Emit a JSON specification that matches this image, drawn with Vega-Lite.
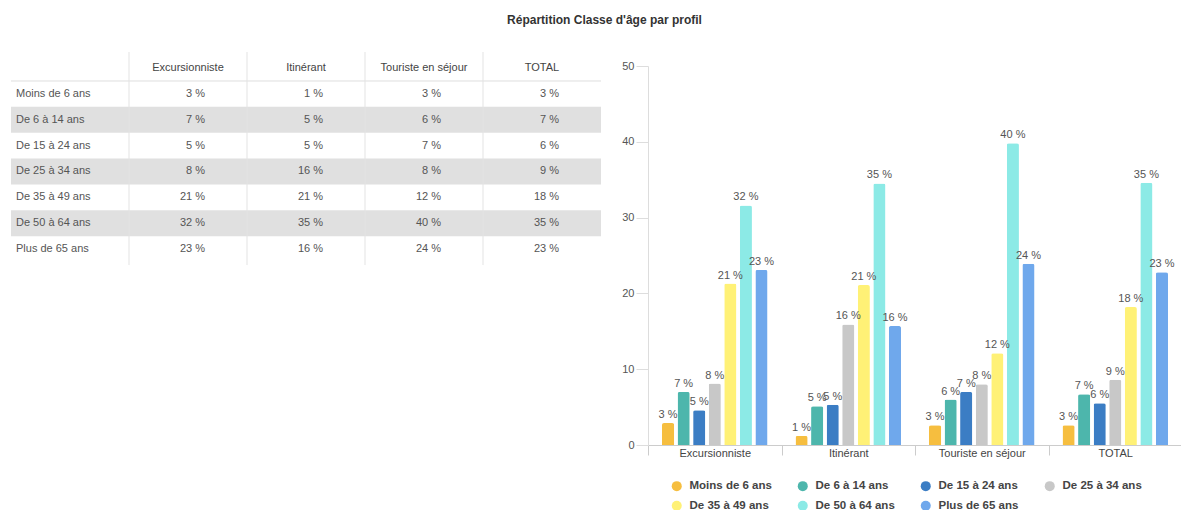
{
  "$schema": "https://vega.github.io/schema/vega-lite/v6.json",
  "padding": {"left": 10, "top": 14, "right": 0, "bottom": 0},
  "background": "white",
  "title": {"text": "Répartition Classe d'âge par profil", "fontSize": 12, "fontWeight": "bold", "color": "#333333", "anchor": "middle", "offset": 24, "dx": 8},
  "config": {"font": "Liberation Sans", "view": {"stroke": null}},
  "bounds": "flush",
  "spacing": 47,
  "datasets": {
    "donnees": [
      {"profil": "Excursionniste", "classe": "Moins de 6 ans", "rang": 1, "pct": 2.9, "label": "3 %"},
      {"profil": "Excursionniste", "classe": "De 6 à 14 ans", "rang": 2, "pct": 7.0, "label": "7 %"},
      {"profil": "Excursionniste", "classe": "De 15 à 24 ans", "rang": 3, "pct": 4.6, "label": "5 %"},
      {"profil": "Excursionniste", "classe": "De 25 à 34 ans", "rang": 4, "pct": 8.1, "label": "8 %"},
      {"profil": "Excursionniste", "classe": "De 35 à 49 ans", "rang": 5, "pct": 21.3, "label": "21 %"},
      {"profil": "Excursionniste", "classe": "De 50 à 64 ans", "rang": 6, "pct": 31.6, "label": "32 %"},
      {"profil": "Excursionniste", "classe": "Plus de 65 ans", "rang": 7, "pct": 23.1, "label": "23 %"},
      {"profil": "Itinérant", "classe": "Moins de 6 ans", "rang": 1, "pct": 1.2, "label": "1 %"},
      {"profil": "Itinérant", "classe": "De 6 à 14 ans", "rang": 2, "pct": 5.1, "label": "5 %"},
      {"profil": "Itinérant", "classe": "De 15 à 24 ans", "rang": 3, "pct": 5.3, "label": "5 %"},
      {"profil": "Itinérant", "classe": "De 25 à 34 ans", "rang": 4, "pct": 15.9, "label": "16 %"},
      {"profil": "Itinérant", "classe": "De 35 à 49 ans", "rang": 5, "pct": 21.1, "label": "21 %"},
      {"profil": "Itinérant", "classe": "De 50 à 64 ans", "rang": 6, "pct": 34.5, "label": "35 %"},
      {"profil": "Itinérant", "classe": "Plus de 65 ans", "rang": 7, "pct": 15.7, "label": "16 %"},
      {"profil": "Touriste en séjour", "classe": "Moins de 6 ans", "rang": 1, "pct": 2.6, "label": "3 %"},
      {"profil": "Touriste en séjour", "classe": "De 6 à 14 ans", "rang": 2, "pct": 6.0, "label": "6 %"},
      {"profil": "Touriste en séjour", "classe": "De 15 à 24 ans", "rang": 3, "pct": 7.0, "label": "7 %"},
      {"profil": "Touriste en séjour", "classe": "De 25 à 34 ans", "rang": 4, "pct": 8.0, "label": "8 %"},
      {"profil": "Touriste en séjour", "classe": "De 35 à 49 ans", "rang": 5, "pct": 12.1, "label": "12 %"},
      {"profil": "Touriste en séjour", "classe": "De 50 à 64 ans", "rang": 6, "pct": 39.8, "label": "40 %"},
      {"profil": "Touriste en séjour", "classe": "Plus de 65 ans", "rang": 7, "pct": 23.9, "label": "24 %"},
      {"profil": "TOTAL", "classe": "Moins de 6 ans", "rang": 1, "pct": 2.6, "label": "3 %"},
      {"profil": "TOTAL", "classe": "De 6 à 14 ans", "rang": 2, "pct": 6.7, "label": "7 %"},
      {"profil": "TOTAL", "classe": "De 15 à 24 ans", "rang": 3, "pct": 5.5, "label": "6 %"},
      {"profil": "TOTAL", "classe": "De 25 à 34 ans", "rang": 4, "pct": 8.6, "label": "9 %"},
      {"profil": "TOTAL", "classe": "De 35 à 49 ans", "rang": 5, "pct": 18.2, "label": "18 %"},
      {"profil": "TOTAL", "classe": "De 50 à 64 ans", "rang": 6, "pct": 34.6, "label": "35 %"},
      {"profil": "TOTAL", "classe": "Plus de 65 ans", "rang": 7, "pct": 22.8, "label": "23 %"}
    ]
  },
  "hconcat": [
    {
      "width": 590,
      "height": 200,
      "data": {"name": "donnees"},
      "layer": [
        {
          "transform": [{"filter": "datum.profil === 'TOTAL' && datum.rang % 2 === 0"}],
          "mark": {"type": "tick", "orient": "horizontal", "thickness": 26, "size": 590, "color": "#e0e0e0", "opacity": 1},
          "encoding": {
            "x": {"datum": "Itinérant", "type": "nominal", "scale": {"domain": ["Classe", "Excursionniste", "Itinérant", "Touriste en séjour", "TOTAL"], "paddingInner": 0, "paddingOuter": 0}, "axis": null},
            "y": {"field": "rang", "type": "quantitative", "scale": {"domain": [-0.0773, 7.656], "reverse": true, "nice": false, "zero": false}, "axis": null}
          }
        },
        {
          "mark": {"type": "rule", "color": "#eeeeee", "strokeWidth": 1},
          "encoding": {"y": {"datum": 0.5, "type": "quantitative"}}
        },
        {
          "data": {"values": [{"profil": "Excursionniste"}, {"profil": "Itinérant"}, {"profil": "Touriste en séjour"}, {"profil": "TOTAL"}]},
          "mark": {"type": "rule", "color": "#e3e3e3", "strokeWidth": 1},
          "encoding": {
            "x": {"field": "profil", "type": "nominal", "bandPosition": 0},
            "y": {"datum": -0.62, "type": "quantitative"},
            "y2": {"datum": 7.62}
          }
        },
        {
          "data": {"values": [{"profil": "Excursionniste"}, {"profil": "Itinérant"}, {"profil": "Touriste en séjour"}, {"profil": "TOTAL"}]},
          "mark": {"type": "text", "fontSize": 11, "color": "#444444"},
          "encoding": {
            "x": {"field": "profil", "type": "nominal"},
            "y": {"datum": 0, "type": "quantitative"},
            "text": {"field": "profil"}
          }
        },
        {
          "transform": [{"filter": "datum.profil === 'TOTAL'"}],
          "mark": {"type": "text", "fontSize": 11, "color": "#555555", "align": "left", "dx": -54},
          "encoding": {
            "x": {"datum": "Classe", "type": "nominal"},
            "y": {"field": "rang", "type": "quantitative"},
            "text": {"field": "classe"}
          }
        },
        {
          "mark": {"type": "text", "fontSize": 11, "color": "#555555", "align": "right", "dx": 17},
          "encoding": {
            "x": {"field": "profil", "type": "nominal"},
            "y": {"field": "rang", "type": "quantitative"},
            "text": {"field": "label"}
          }
        }
      ]
    },
    {
      "width": 534,
      "height": 379,
      "data": {"name": "donnees"},
      "encoding": {
        "x": {
          "field": "profil", "type": "nominal",
          "sort": ["Excursionniste", "Itinérant", "Touriste en séjour", "TOTAL"],
          "scale": {"paddingInner": 0, "paddingOuter": 0},
          "axis": {"title": null, "labelAngle": 0, "labelFontSize": 11, "labelColor": "#444444", "tickBand": "extent", "tickSize": 10, "tickColor": "#cccccc", "domainColor": "#cccccc", "labelPadding": -8}
        },
        "xOffset": {
          "field": "classe", "type": "nominal",
          "sort": ["Moins de 6 ans", "De 6 à 14 ans", "De 15 à 24 ans", "De 25 à 34 ans", "De 35 à 49 ans", "De 50 à 64 ans", "Plus de 65 ans"],
          "scale": {"paddingInner": 0.22, "paddingOuter": 0.9}
        },
        "y": {
          "field": "pct", "type": "quantitative",
          "scale": {"domain": [0, 50], "nice": false},
          "axis": {"title": null, "values": [0, 10, 20, 30, 40, 50], "grid": false, "labelFontSize": 11, "labelColor": "#555555", "tickSize": 12, "tickColor": "#dddddd", "domainColor": "#dddddd", "labelPadding": 2}
        }
      },
      "layer": [
        {
          "mark": {"type": "bar", "cornerRadiusTopLeft": 2, "cornerRadiusTopRight": 2},
          "encoding": {
            "color": {
              "field": "classe", "type": "nominal",
              "scale": {
                "domain": ["Moins de 6 ans", "De 6 à 14 ans", "De 15 à 24 ans", "De 25 à 34 ans", "De 35 à 49 ans", "De 50 à 64 ans", "Plus de 65 ans"],
                "range": ["#f6be3f", "#4db6ac", "#3b7dc4", "#c8c8c8", "#fff176", "#8ceae6", "#6fa8ec"]
              },
              "legend": {"orient": "none", "legendX": 660, "legendY": 414, "direction": "horizontal", "columns": 4, "title": null, "symbolType": "circle", "symbolSize": 100, "symbolStrokeWidth": 0, "labelFontSize": 11.5, "labelFontWeight": "bold", "labelColor": "#444444", "columnPadding": 25, "rowPadding": 7, "labelOffset": 7, "padding": 0}
            }
          }
        },
        {
          "mark": {"type": "text", "baseline": "bottom", "dy": -3, "fontSize": 11, "color": "#555555"},
          "encoding": {"text": {"field": "label"}}
        }
      ]
    }
  ]
}
